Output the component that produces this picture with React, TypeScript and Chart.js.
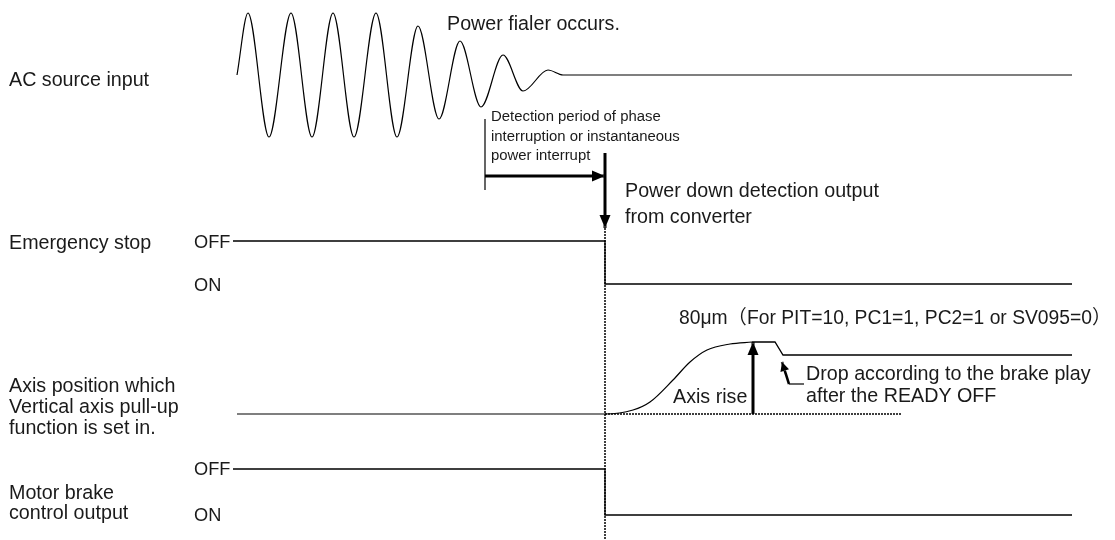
import React, { useEffect, useRef } from "react";
import { Chart, registerables } from "chart.js";

Chart.register(...registerables);

// ---- Data (diagram units = page pixels) ----
// AC source input: extremes of the decaying sine wave, then flat line
const AC_X = [237, 248, 269, 291, 312, 333, 354, 376, 397, 418, 439, 460, 481, 503, 523, 548, 563, 1072];
const AC_Y = [75, 13, 137, 13, 137, 13, 137, 13, 137, 26, 119, 41, 107, 55, 91, 70, 75, 75];

// Emergency stop: OFF -> ON at power-down detection
const ES_X = [233, 605, 605, 1072];
const ES_Y = [241, 241, 284, 284];

// Axis position: baseline then pull-up rise (smooth part)
const AXR_X = [237, 605, 633, 650, 673, 690, 707, 730, 752];
const AXR_Y = [414, 414, 410, 402, 380, 362, 350, 344, 342];
// Axis position: plateau and drop by brake play
const AXD_X = [752, 775, 783, 1072];
const AXD_Y = [342, 342, 355, 355];
// Dotted reference baseline
const AXB_X = [605, 902];
const AXB_Y = [414, 414];

// Motor brake control output: OFF -> ON
const MB_X = [233, 605, 605, 1072];
const MB_Y = [469, 469, 515, 515];

// Markers
const DOT_X = [605, 605];
const DOT_Y = [228, 540];
const DET_X = [485, 485];
const DET_Y = [119, 190];
const DETA_X = [485, 605];
const DETA_Y = [176, 176];
const DOWN_X = [605, 605];
const DOWN_Y = [153, 228];
const RISE_X = [753, 753];
const RISE_Y = [414, 342];
const DROPL_X = [789, 804];
const DROPL_Y = [384, 384];
const DROPA_X = [789, 782];
const DROPA_Y = [384, 362];

// Text labels
const TEXTS: { t: string; x: number; y: number; s: number }[] = [
  { t: "AC source input", x: 9, y: 86, s: 19.7 },
  { t: "Power fialer occurs.", x: 447, y: 30, s: 19.7 },
  { t: "Detection period of phase", x: 491, y: 121, s: 14.9 },
  { t: "interruption or instantaneous", x: 491, y: 141, s: 14.9 },
  { t: "power interrupt", x: 491, y: 160, s: 14.9 },
  { t: "Power down detection output", x: 625, y: 197, s: 19.7 },
  { t: "from converter", x: 625, y: 223, s: 19.7 },
  { t: "Emergency stop", x: 9, y: 249, s: 19.7 },
  { t: "OFF", x: 194, y: 248, s: 18.2 },
  { t: "ON", x: 194, y: 291, s: 18.2 },
  { t: "80μm（For PIT=10, PC1=1, PC2=1 or SV095=0）", x: 679, y: 324, s: 19.3 },
  { t: "Drop according to the brake play", x: 806, y: 380, s: 19.7 },
  { t: "after the READY OFF", x: 806, y: 402, s: 19.7 },
  { t: "Axis rise", x: 673, y: 403, s: 19.7 },
  { t: "Axis position which", x: 9, y: 392, s: 19.7 },
  { t: "Vertical axis pull-up", x: 9, y: 413, s: 19.7 },
  { t: "function is set in.", x: 9, y: 434, s: 19.7 },
  { t: "OFF", x: 194, y: 475, s: 18.2 },
  { t: "Motor brake", x: 9, y: 499, s: 19.7 },
  { t: "control output", x: 9, y: 519, s: 19.7 },
  { t: "ON", x: 194, y: 521, s: 18.2 },
];

const pts = (xs: number[], ys: number[]) => xs.map((x, i) => ({ x, y: ys[i] }));

function arrowPath(ctx: CanvasRenderingContext2D, meta: any, L: number, hw: number) {
  const d = meta.data;
  const p1 = d[d.length - 2];
  const p2 = d[d.length - 1];
  const a = Math.atan2(p2.y - p1.y, p2.x - p1.x);
  const bx = p2.x - L * Math.cos(a);
  const by = p2.y - L * Math.sin(a);
  const nx = -Math.sin(a) * hw;
  const ny = Math.cos(a) * hw;
  ctx.moveTo(p2.x, p2.y);
  ctx.lineTo(bx + nx, by + ny);
  ctx.lineTo(bx - nx, by - ny);
  ctx.closePath();
}

const arrowPlugin = {
  id: "arrows",
  beforeDatasetDraw(chart: any, args: any) {
    const ds = chart.data.datasets[args.index];
    if (!ds.arrow) return;
    const ctx = chart.ctx;
    ctx.save();
    ctx.beginPath();
    ctx.rect(0, 0, chart.width, chart.height);
    arrowPath(ctx, args.meta, ds.arrow[0], ds.arrow[1]);
    ctx.clip("evenodd");
  },
  afterDatasetDraw(chart: any, args: any) {
    const ds = chart.data.datasets[args.index];
    if (!ds.arrow) return;
    const ctx = chart.ctx;
    ctx.restore();
    ctx.save();
    ctx.beginPath();
    arrowPath(ctx, args.meta, ds.arrow[0], ds.arrow[1]);
    ctx.fillStyle = "#000";
    ctx.fill();
    ctx.restore();
  },
};

const textPlugin = {
  id: "texts",
  afterDraw(chart: any) {
    const ctx = chart.ctx;
    const xs = chart.scales.x;
    const ys = chart.scales.y;
    ctx.save();
    ctx.fillStyle = "#1a1a1a";
    ctx.textBaseline = "alphabetic";
    ctx.textAlign = "left";
    for (const l of TEXTS) {
      ctx.font = `${l.s}px 'Liberation Sans', Arial, 'Noto Sans CJK JP', sans-serif`;
      ctx.fillText(l.t, xs.getPixelForValue(l.x), ys.getPixelForValue(l.y));
    }
    ctx.restore();
  },
};

function line(xs: number[], ys: number[], extra: any = {}) {
  return {
    data: pts(xs, ys),
    borderColor: "#000",
    borderWidth: 1.3,
    pointRadius: 0,
    tension: 0,
    fill: false,
    clip: false,
    ...extra,
  };
}

export default function App() {
  const ref = useRef<HTMLCanvasElement | null>(null);
  useEffect(() => {
    if (!ref.current) return;
    const chart = new Chart(ref.current, {
      type: "line",
      data: {
        datasets: [
          line(AC_X, AC_Y, { cubicInterpolationMode: "monotone", borderWidth: 1.2 }),
          line(ES_X, ES_Y),
          line(AXR_X, AXR_Y, { cubicInterpolationMode: "monotone", borderWidth: 1.2 }),
          line(AXD_X, AXD_Y),
          line(AXB_X, AXB_Y, { borderDash: [2, 1], borderWidth: 1.5 }),
          line(MB_X, MB_Y),
          line(DOT_X, DOT_Y, { borderDash: [2, 1], borderWidth: 1.5 }),
          line(DET_X, DET_Y, { borderWidth: 1.2 }),
          line(DETA_X, DETA_Y, { borderWidth: 3, arrow: [13, 5.5] }),
          line(DOWN_X, DOWN_Y, { borderWidth: 3, arrow: [13, 5.5] }),
          line(RISE_X, RISE_Y, { borderWidth: 3, arrow: [13, 5.5] }),
          line(DROPL_X, DROPL_Y, { borderWidth: 1.2 }),
          line(DROPA_X, DROPA_Y, { borderWidth: 2.5, arrow: [9, 4.5] }),
        ] as any,
      },
      options: {
        responsive: false,
        maintainAspectRatio: false,
        animation: false,
        layout: { padding: 0 },
        scales: {
          x: { type: "linear", display: false, min: 0, max: 1115 },
          y: { type: "linear", display: false, min: 0, max: 540, reverse: true },
        },
        plugins: { legend: { display: false }, tooltip: { enabled: false } },
        events: [],
      },
      plugins: [arrowPlugin, textPlugin],
    });
    return () => chart.destroy();
  }, []);
  return (
    <div style={{ position: "absolute", left: 0, top: 0, width: 1115, height: 540, background: "#fff" }}>
      <canvas ref={ref} width={1115} height={540} style={{ display: "block", width: 1115, height: 540 }} />
    </div>
  );
}
